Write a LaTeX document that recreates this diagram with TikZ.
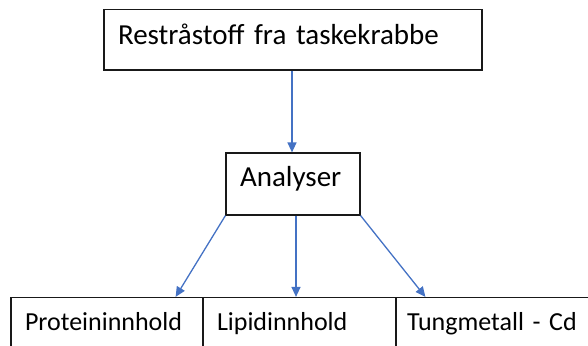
\documentclass[tikz,border=0pt]{standalone}
\usepackage{fontspec}
\setmainfont{Carlito}
\usetikzlibrary{arrows.meta}
\definecolor{flowblue}{HTML}{4472C4}
\tikzset{
  box/.style={draw=black!90, line width=1.2pt, inner ysep=0pt, align=left},
  bigtext/.style={font=\fontsize{29}{34}\selectfont},
  smalltext/.style={font=\fontsize{26}{31}\selectfont},
  flow/.style={draw=flowblue, line width=1.3pt, -{Triangle[length=10pt,width=9pt]}}
}
\begin{document}
\begin{tikzpicture}[x=1pt,y=-1pt]
\useasboundingbox (0,0) rectangle (588,345);
\clip (0,0) rectangle (588,345);
% source material box
\node[box, bigtext, minimum height=60.5pt, inner xsep=14pt, text width=350pt,
      text height=18pt, text depth=7.5pt] (src) at (293,39.75) {Restråstoff fra taskekrabbe};
% analysis box
\node[box, bigtext, minimum height=62pt, inner xsep=14pt, text width=106pt,
      text height=18pt, text depth=12.6pt] (ana) at (293,184) {Analyser};
% result boxes along the bottom edge
\node[box, smalltext, minimum height=67.5pt, inner xsep=14pt, text width=164pt,
      text height=16pt, text depth=18pt] (prot) at (107,331.25) {Proteininnhold};
\node[box, smalltext, minimum height=67.5pt, inner xsep=14pt, text width=165pt,
      text height=16pt, text depth=18pt] (lip) at (299.5,331.25) {Lipidinnhold};
\node[box, smalltext, minimum height=67.5pt, inner xsep=11pt, text width=192pt,
      text height=16pt, text depth=18pt] (tung) at (503,331.25) {Tungmetall - Cd};
% connectors
\draw[flow] ([xshift=-1pt]src.south) -- ([xshift=-1pt]ana.north);
\draw[flow] (ana.south west) -- ([xshift=-28pt]prot.north east);
\draw[flow] ([xshift=3pt]ana.south) -- ([xshift=3pt]ana.south |- lip.north);
\draw[flow] (ana.south east) -- ([xshift=30pt]tung.north west);
\end{tikzpicture}
\end{document}
